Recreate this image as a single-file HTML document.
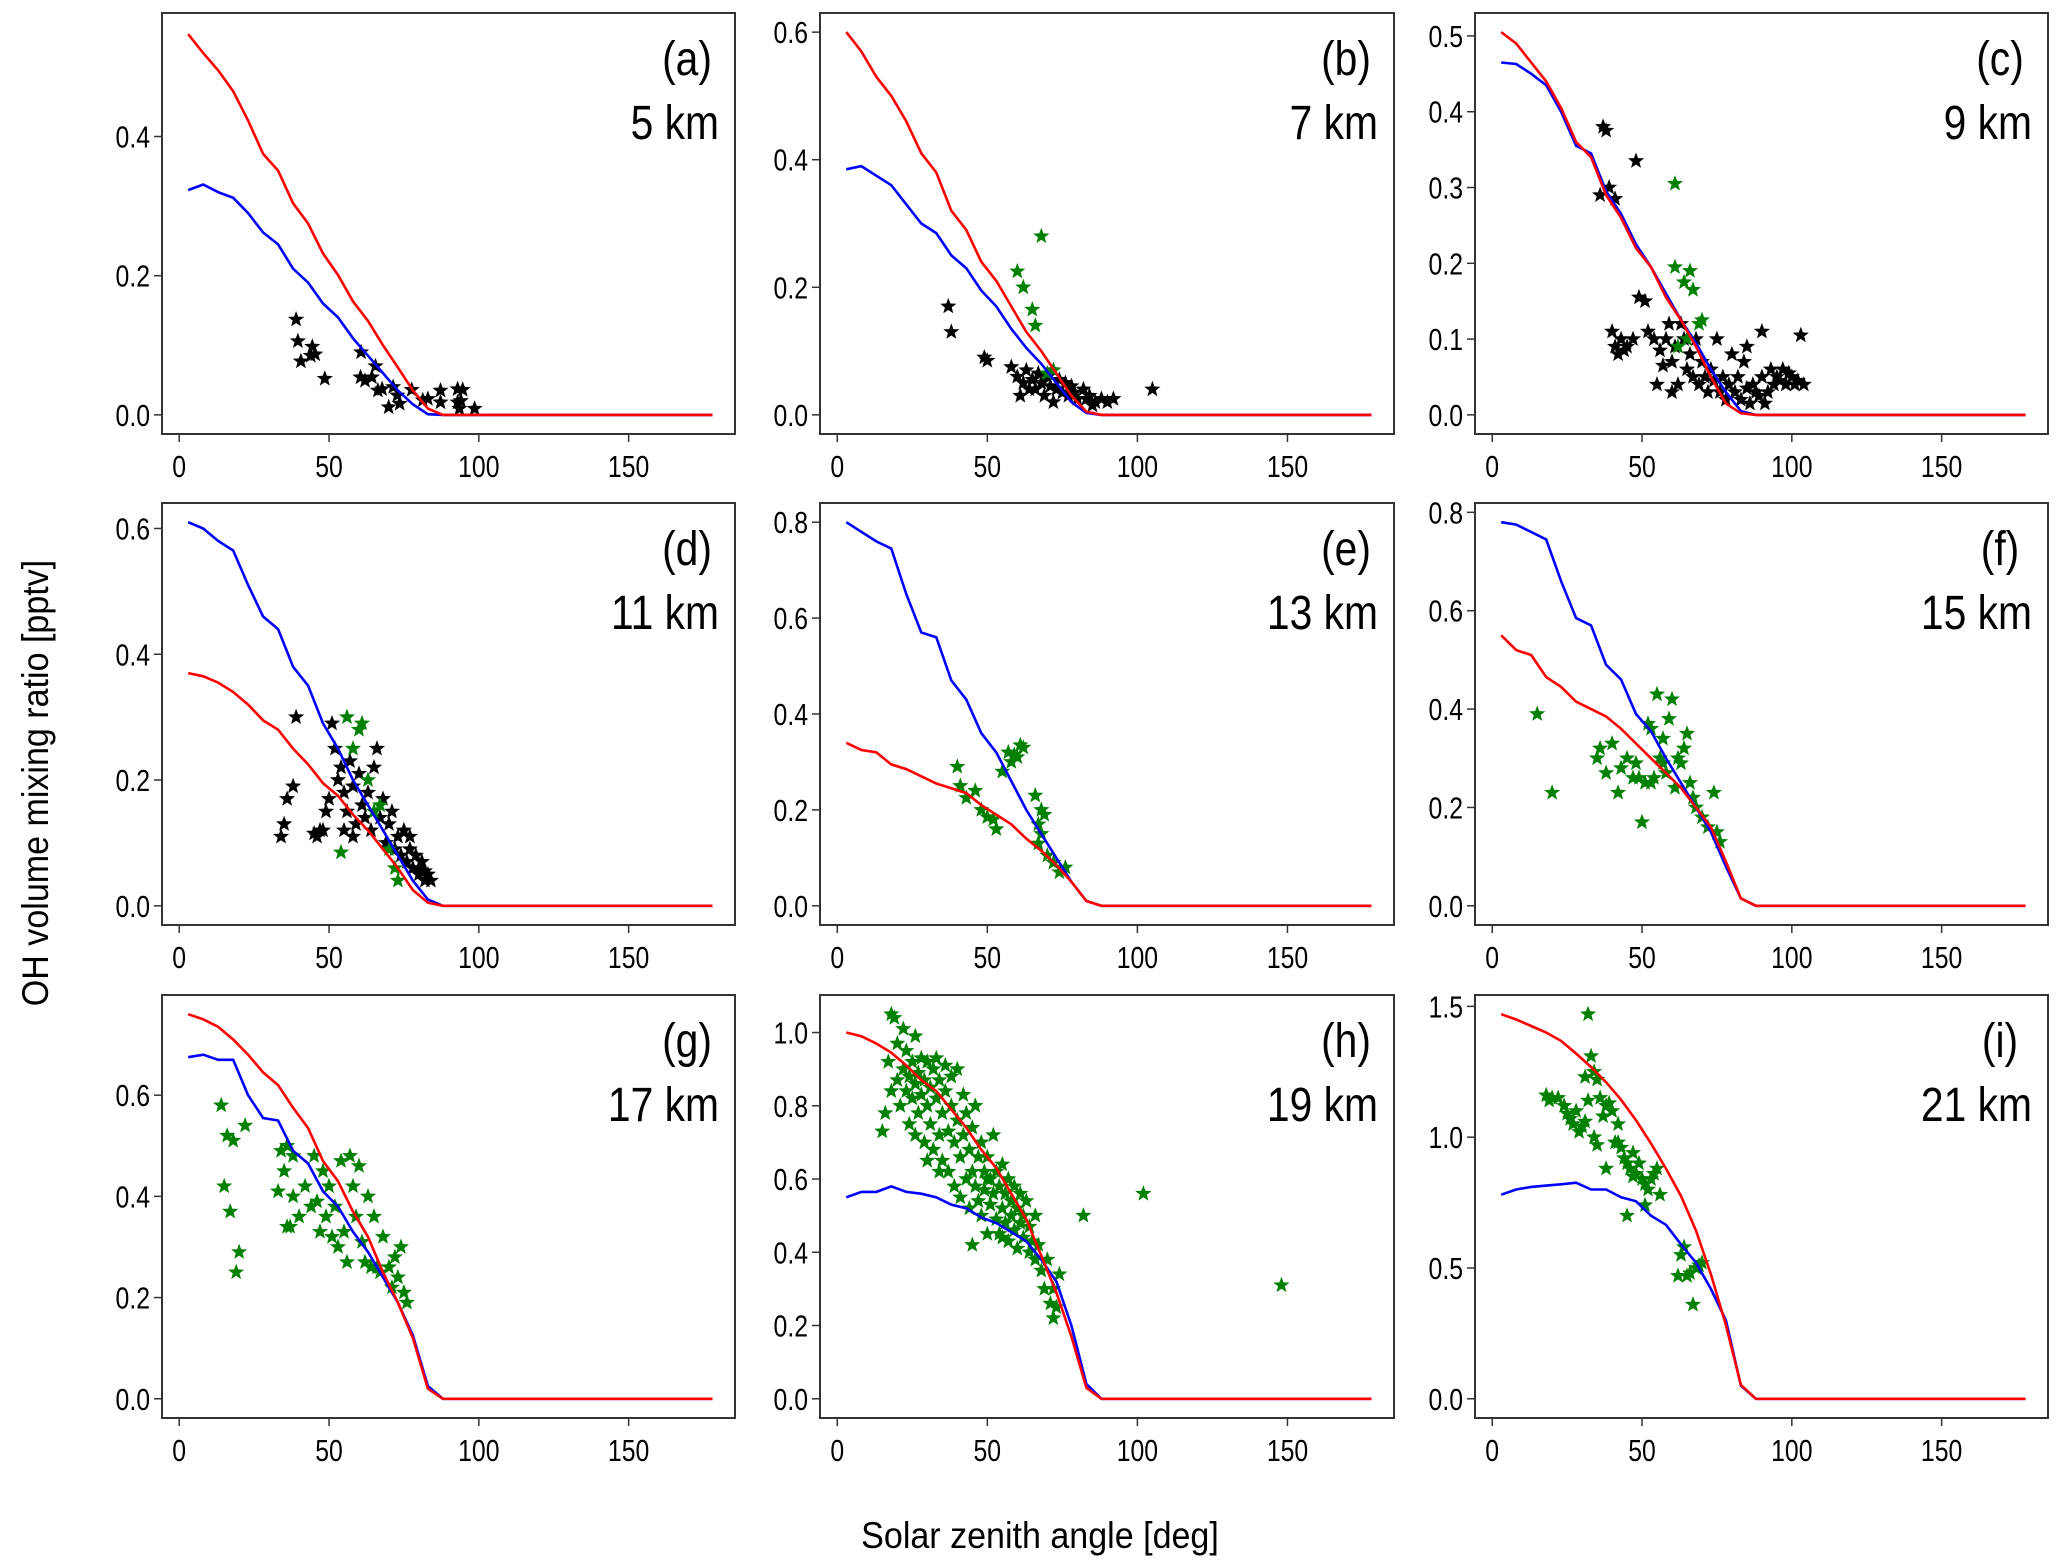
<!DOCTYPE html>
<html><head><meta charset="utf-8">
<style>
html,body{margin:0;padding:0;background:#fff;}
svg{display:block;font-family:"Liberation Sans Narrow","Liberation Sans",sans-serif;}
</style></head>
<body>
<svg id="fig" width="2067" height="1565" viewBox="0 0 2067 1565" xmlns="http://www.w3.org/2000/svg">
<text x="0" y="0" transform="translate(48,783) rotate(-90) scale(0.92,1)" text-anchor="middle" font-size="37" fill="#000" font-family="Liberation Sans, sans-serif">OH volume mixing ratio [pptv]</text>
<text x="0" y="0" transform="translate(1040,1548) scale(0.92,1)" text-anchor="middle" font-size="37" fill="#000" font-family="Liberation Sans, sans-serif">Solar zenith angle [deg]</text>
</svg>
<script>
const szaGrid=[3,8,13,18,23,28,33,38,43,48,53,58,63,68,73,78,83,88,178];
const panelLetters=['a','b','c','d','e','f','g','h','i'];
const panelAlt=['5 km','7 km','9 km','11 km','13 km','15 km','17 km','19 km','21 km'];
const yMaxData=[0.55,0.60,0.505,0.61,0.80,0.78,0.76,1.05,1.47];
const yTicks=[[0,0.2,0.4],[0,0.2,0.4,0.6],[0,0.1,0.2,0.3,0.4,0.5],[0,0.2,0.4,0.6],[0,0.2,0.4,0.6,0.8],[0,0.2,0.4,0.6,0.8],[0,0.2,0.4,0.6],[0,0.2,0.4,0.6,0.8,1.0],[0,0.5,1.0,1.5]];
const yTickLabels=[['0.0','0.2','0.4'],['0.0','0.2','0.4','0.6'],['0.0','0.1','0.2','0.3','0.4','0.5'],['0.0','0.2','0.4','0.6'],['0.0','0.2','0.4','0.6','0.8'],['0.0','0.2','0.4','0.6','0.8'],['0.0','0.2','0.4','0.6'],['0.0','0.2','0.4','0.6','0.8','1.0'],['0.0','0.5','1.0','1.5']];
const xTicks=[0,50,100,150];
const xTickLabels=['0','50','100','150'];
const redSeries=[
[0.547,0.52,0.495,0.465,0.423,0.375,0.351,0.304,0.275,0.232,0.201,0.163,0.135,0.10,0.068,0.035,0.009,0,0],
[0.60,0.57,0.53,0.50,0.46,0.41,0.38,0.32,0.29,0.24,0.21,0.17,0.13,0.10,0.065,0.03,0.005,0,0],
[0.505,0.49,0.465,0.44,0.405,0.36,0.34,0.29,0.26,0.22,0.195,0.155,0.125,0.09,0.05,0.015,0.002,0,0],
[0.37,0.365,0.355,0.34,0.32,0.295,0.28,0.25,0.225,0.195,0.175,0.145,0.12,0.09,0.06,0.025,0.005,0,0],
[0.34,0.325,0.32,0.295,0.285,0.27,0.255,0.245,0.235,0.21,0.19,0.17,0.14,0.115,0.085,0.05,0.01,0,0],
[0.55,0.52,0.51,0.465,0.445,0.415,0.40,0.385,0.36,0.33,0.30,0.27,0.24,0.20,0.16,0.09,0.015,0,0],
[0.76,0.75,0.735,0.71,0.68,0.645,0.62,0.575,0.535,0.47,0.43,0.37,0.32,0.25,0.19,0.12,0.02,0,0],
[1.00,0.99,0.97,0.945,0.91,0.87,0.84,0.79,0.74,0.68,0.63,0.56,0.49,0.39,0.29,0.17,0.03,0,0],
[1.47,1.45,1.425,1.40,1.368,1.32,1.268,1.21,1.143,1.065,0.976,0.88,0.775,0.643,0.476,0.282,0.053,0,0]];
const blueSeries=[
[0.323,0.331,0.32,0.312,0.29,0.262,0.245,0.21,0.19,0.16,0.14,0.11,0.085,0.06,0.035,0.015,0.001,0,0],
[0.385,0.39,0.375,0.36,0.33,0.30,0.285,0.25,0.23,0.195,0.17,0.135,0.105,0.08,0.05,0.02,0.003,0,0],
[0.465,0.463,0.45,0.435,0.40,0.355,0.345,0.295,0.265,0.225,0.195,0.16,0.125,0.095,0.06,0.03,0.005,0,0],
[0.61,0.60,0.58,0.565,0.51,0.46,0.44,0.38,0.35,0.29,0.25,0.20,0.16,0.12,0.08,0.04,0.01,0,0],
[0.80,0.78,0.76,0.745,0.65,0.57,0.56,0.47,0.43,0.36,0.32,0.26,0.20,0.15,0.10,0.05,0.01,0,0],
[0.78,0.775,0.76,0.745,0.66,0.585,0.57,0.49,0.46,0.39,0.355,0.30,0.25,0.20,0.15,0.08,0.015,0,0],
[0.675,0.68,0.67,0.67,0.60,0.555,0.55,0.49,0.465,0.41,0.38,0.33,0.29,0.24,0.19,0.125,0.025,0,0],
[0.55,0.565,0.565,0.58,0.565,0.56,0.55,0.53,0.52,0.495,0.48,0.455,0.43,0.38,0.32,0.20,0.04,0,0],
[0.78,0.80,0.81,0.815,0.82,0.826,0.80,0.80,0.77,0.755,0.70,0.665,0.59,0.52,0.42,0.30,0.05,0,0]];
const blackPts=[
[[39,0.137],[39.6,0.106],[40.6,0.077],[44.4,0.098],[43.9,0.085],[45.4,0.087],[48.6,0.052],[60.7,0.09],[60.5,0.054],[62,0.049],[64.3,0.054],[65.5,0.07],[66.3,0.035],[67.7,0.037],[69.9,0.011],[71.4,0.04],[72.8,0.028],[73.6,0.016],[77.6,0.036],[81.3,0.021],[83,0.023],[87.2,0.035],[87.2,0.018],[92.9,0.037],[94.6,0.036],[92.9,0.018],[94,0.02],[93.5,0.009],[98.6,0.009]],
[[37,0.17],[38,0.13],[49,0.09],[50,0.085],[58,0.075],[60,0.06],[62,0.05],[63,0.07],[65,0.055],[66,0.04],[67,0.065],[68,0.05],[70,0.06],[71,0.045],[72,0.07],[73,0.04],[74,0.055],[75,0.035],[76,0.05],[77,0.03],[78,0.045],[80,0.025],[82,0.04],[84,0.03],[86,0.02],[88,0.025],[90,0.02],[92,0.025],[105,0.04],[61,0.03],[64,0.04],[69,0.03],[72,0.02],[79,0.035],[83,0.025],[85,0.015]],
[[36,0.29],[37,0.38],[38,0.375],[39,0.30],[41,0.285],[48,0.335],[40,0.11],[41,0.09],[42,0.08],[43,0.1],[44,0.085],[45,0.09],[47,0.1],[49,0.155],[51,0.15],[52,0.11],[54,0.10],[56,0.085],[57,0.065],[58,0.10],[59,0.12],[60,0.07],[61,0.09],[62,0.04],[63,0.12],[64,0.10],[65,0.06],[66,0.08],[67,0.05],[68,0.1],[69,0.04],[70,0.07],[71,0.05],[72,0.03],[73,0.06],[74,0.045],[75,0.10],[76,0.03],[77,0.05],[78,0.02],[79,0.04],[80,0.08],[81,0.03],[82,0.05],[83,0.02],[84,0.07],[85,0.035],[86,0.015],[87,0.04],[88,0.03],[89,0.025],[90,0.05],[91,0.015],[92,0.03],[93,0.06],[94,0.04],[95,0.05],[96,0.045],[97,0.06],[98,0.04],[99,0.055],[100,0.05],[101,0.04],[102,0.045],[103,0.105],[104,0.04],[90,0.11],[85,0.09],[55,0.04],[60,0.03]],
[[34,0.11],[35,0.13],[36,0.17],[38,0.19],[39,0.30],[45,0.115],[46,0.11],[47,0.12],[49,0.15],[50,0.17],[51,0.29],[52,0.25],[53,0.20],[54,0.22],[55,0.18],[56,0.15],[57,0.23],[58,0.19],[59,0.13],[60,0.21],[61,0.16],[62,0.14],[63,0.18],[64,0.12],[65,0.22],[66,0.25],[67,0.14],[68,0.17],[69,0.10],[70,0.13],[71,0.15],[72,0.09],[73,0.11],[74,0.08],[75,0.12],[76,0.07],[77,0.09],[78,0.06],[79,0.08],[80,0.05],[81,0.07],[82,0.04],[83,0.05],[84,0.04],[80,0.06],[82,0.055],[77,0.11],[55,0.12],[58,0.11],[48,0.12]],
[],[],[],[],[]];
const greenPts=[
[],
[[60,0.225],[62,0.20],[65,0.165],[66,0.14],[68,0.28],[70,0.065],[72,0.07]],
[[61,0.305],[61,0.195],[64,0.175],[66,0.19],[67,0.165],[69,0.12],[70,0.125],[62,0.09],[65,0.1]],
[[54,0.085],[56,0.30],[58,0.25],[60,0.28],[61,0.29],[63,0.2],[65,0.15],[67,0.16],[70,0.09],[72,0.06],[73,0.04]],
[[40,0.29],[41,0.25],[43,0.225],[46,0.24],[48,0.20],[50,0.185],[52,0.18],[53,0.16],[55,0.28],[57,0.32],[58,0.30],[59,0.315],[60,0.31],[61,0.335],[62,0.33],[66,0.23],[67,0.17],[68,0.15],[69,0.19],[70,0.105],[72,0.09],[74,0.07],[76,0.08],[67,0.13],[68,0.2]],
[[15,0.39],[20,0.23],[35,0.30],[36,0.32],[38,0.27],[40,0.33],[42,0.23],[43,0.28],[45,0.30],[47,0.26],[48,0.29],[50,0.17],[51,0.25],[52,0.37],[53,0.36],[54,0.26],[55,0.43],[56,0.30],[57,0.29],[58,0.27],[59,0.38],[60,0.42],[61,0.24],[62,0.30],[63,0.29],[64,0.32],[65,0.35],[66,0.25],[67,0.22],[68,0.20],[70,0.18],[72,0.16],[74,0.23],[75,0.15],[76,0.13],[53,0.25],[57,0.34],[49,0.26]],
[[14,0.58],[15,0.42],[16,0.52],[18,0.51],[17,0.37],[19,0.25],[20,0.29],[22,0.54],[33,0.41],[34,0.49],[35,0.45],[36,0.5],[37,0.34],[38,0.40],[40,0.36],[42,0.42],[44,0.38],[45,0.48],[46,0.39],[47,0.33],[48,0.45],[49,0.36],[50,0.42],[51,0.32],[52,0.38],[53,0.30],[54,0.47],[55,0.33],[56,0.27],[57,0.48],[58,0.42],[59,0.36],[60,0.46],[61,0.31],[62,0.27],[63,0.40],[64,0.26],[65,0.36],[66,0.26],[67,0.25],[68,0.32],[70,0.26],[71,0.22],[72,0.28],[73,0.24],[74,0.30],[75,0.21],[76,0.19],[36,0.34],[38,0.48]],
[[15,0.73],[16,0.78],[17,0.92],[18,0.84],[18,1.05],[19,1.04],[20,0.87],[20,0.97],[21,0.80],[22,0.90],[22,1.01],[23,0.84],[23,0.95],[24,0.75],[24,0.88],[25,0.92],[25,0.82],[26,0.86],[26,0.99],[27,0.89],[27,0.78],[28,0.83],[28,0.93],[29,0.70],[29,0.87],[30,0.80],[30,0.92],[31,0.85],[31,0.75],[32,0.90],[32,0.68],[33,0.82],[33,0.93],[34,0.72],[34,0.87],[35,0.78],[35,0.65],[36,0.91],[36,0.84],[37,0.73],[37,0.62],[38,0.80],[38,0.88],[39,0.70],[39,0.58],[40,0.76],[40,0.90],[41,0.66],[41,0.55],[42,0.83],[42,0.72],[43,0.60],[43,0.78],[44,0.68],[44,0.52],[45,0.74],[45,0.62],[46,0.58],[46,0.80],[47,0.66],[47,0.54],[48,0.70],[48,0.50],[49,0.62],[49,0.57],[50,0.66],[50,0.45],[51,0.60],[51,0.53],[52,0.72],[52,0.56],[53,0.49],[53,0.62],[54,0.58],[54,0.45],[55,0.64],[55,0.52],[56,0.56],[56,0.48],[57,0.60],[57,0.43],[58,0.54],[58,0.50],[59,0.58],[59,0.46],[60,0.52],[60,0.41],[61,0.56],[61,0.48],[62,0.50],[62,0.44],[63,0.54],[64,0.47],[64,0.40],[65,0.43],[66,0.50],[66,0.38],[67,0.42],[68,0.35],[69,0.30],[70,0.38],[71,0.26],[72,0.22],[72,0.30],[73,0.25],[74,0.34],[26,0.72],[30,0.65],[34,0.62],[45,0.42],[50,0.60],[55,0.44],[82,0.50],[102,0.56],[148,0.31]],
[[32,1.47],[33,1.31],[31,1.23],[34,1.25],[35,1.22],[18,1.16],[19,1.14],[20,1.15],[22,1.15],[24,1.12],[25,1.09],[26,1.07],[27,1.05],[28,1.10],[29,1.02],[30,1.04],[31,1.06],[32,1.14],[34,1.00],[35,0.97],[36,1.15],[37,1.08],[38,1.12],[39,1.13],[40,1.10],[41,0.98],[42,1.05],[43,0.96],[44,0.92],[45,0.90],[46,0.88],[47,0.94],[48,0.86],[49,0.90],[50,0.84],[51,0.82],[52,0.80],[53,0.84],[54,0.86],[55,0.88],[56,0.78],[51,0.74],[45,0.70],[38,0.88],[42,0.98],[47,0.85],[62,0.47],[63,0.55],[64,0.58],[65,0.47],[66,0.48],[67,0.36],[68,0.50],[69,0.51],[70,0.52]]];

const NS='http://www.w3.org/2000/svg';
const svg=document.getElementById('fig');
const colX=[[162,735],[820,1394],[1475,2048]];
const rowY=[[13,434],[503,925],[995,1418]];
const X0=-5.75,X1=185.5;
function mk(tag,parent){const e=document.createElementNS(NS,tag);parent.appendChild(e);return e;}
function starPath(cx,cy,r){let d='';for(let k=0;k<10;k++){const rr=k%2?r*0.42:r;const a=-Math.PI/2+k*Math.PI/5;d+=(k?'L':'M')+(cx+rr*Math.cos(a)).toFixed(1)+' '+(cy+rr*Math.sin(a)).toFixed(1);}return d+'Z';}
function place(tx,x,y,sc){tx.setAttribute('x',0);tx.setAttribute('y',0);tx.setAttribute('transform','translate('+x.toFixed(1)+','+y.toFixed(1)+') scale('+sc+',1)');}
for(let p=0;p<9;p++){
  const [L,R]=colX[p%3],[T,B]=rowY[Math.floor(p/3)];
  const M=yMaxData[p],Y0=-0.05*M,Y1=1.05*M;
  const sx=v=>L+(v-X0)/(X1-X0)*(R-L);
  const sy=v=>B-(v-Y0)/(Y1-Y0)*(B-T);
  const g=mk('g',svg);
  
  
  yTicks[p].forEach((t,i)=>{
    const ln=mk('line',g);ln.setAttribute('x1',L-8);ln.setAttribute('x2',L);ln.setAttribute('y1',sy(t));ln.setAttribute('y2',sy(t));ln.setAttribute('stroke','#333');ln.setAttribute('stroke-width','1.5');
    const tx=mk('text',g);
    
    
    place(tx,L-12,sy(t)+11,0.8);tx.setAttribute('text-anchor','end');tx.setAttribute('font-size','31');tx.textContent=yTickLabels[p][i];
  });
  xTicks.forEach((t,i)=>{
    const ln=mk('line',g);ln.setAttribute('x1',sx(t));ln.setAttribute('x2',sx(t));ln.setAttribute('y1',B);ln.setAttribute('y2',B+8);ln.setAttribute('stroke','#333');ln.setAttribute('stroke-width','1.5');
    const tx=mk('text',g);
    
    
    place(tx,sx(t),B+43,0.8);tx.setAttribute('text-anchor','middle');tx.setAttribute('font-size','31');tx.textContent=xTickLabels[i];
  });
  [[blackPts[p],'#000','black-obs'],[greenPts[p],'#008000','green-obs']].forEach(([pts,col,nm])=>{
    pts.forEach(pt=>{
      const s=mk('path',g);
      
      
      s.setAttribute('d',starPath(sx(pt[0]),sy(pt[1]),8.5));s.setAttribute('fill',col);
    });
  });
  [[blueSeries[p],'#0000ff','blue-model-line'],[redSeries[p],'#ff0000','red-model-line']].forEach(([vals,col,nm])=>{
    const pl=mk('polyline',g);
    
    
    pl.setAttribute('points',vals.map((v,i)=>sx(szaGrid[i]).toFixed(1)+','+sy(v).toFixed(1)).join(' '));
    pl.setAttribute('fill','none');pl.setAttribute('stroke',col);pl.setAttribute('stroke-width','2.6');
  });
  const box=mk('rect',g);
  
  
  box.setAttribute('x',L);box.setAttribute('y',T);box.setAttribute('width',R-L);box.setAttribute('height',B-T);box.setAttribute('fill','none');box.setAttribute('stroke','#333');box.setAttribute('stroke-width','2');
  const t1=mk('text',g);
  
  
  place(t1,R-48,T+62,0.85);t1.setAttribute('text-anchor','middle');t1.setAttribute('font-size','48');t1.textContent='('+panelLetters[p]+')';
  const t2=mk('text',g);
  
  
  place(t2,R-16,T+126,0.85);t2.setAttribute('text-anchor','end');t2.setAttribute('font-size','48');t2.textContent=panelAlt[p];
}
</script>
</body></html>
